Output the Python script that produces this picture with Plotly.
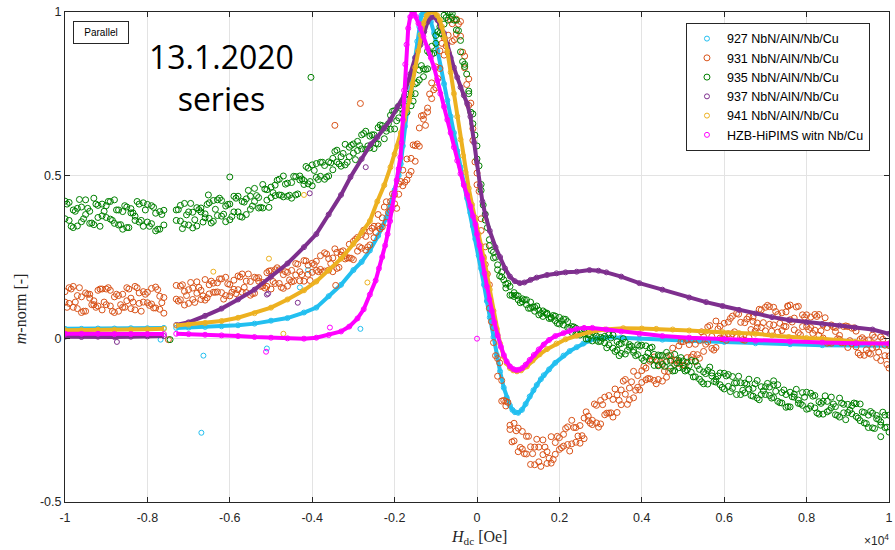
import plotly.graph_objects as go

# ---------------- data (H in units of 10^4 Oe, m normalised) ----------------
H_NOISY = [
    -1.00, -0.99, -0.98, -0.97, -0.96, -0.95, -0.94, -0.93, -0.92, -0.91,
    -0.90, -0.89, -0.88, -0.87, -0.86, -0.85, -0.84, -0.83, -0.82, -0.81,
    -0.80, -0.79, -0.78, -0.77, -0.76,
    -0.73, -0.72, -0.71, -0.70, -0.69, -0.68, -0.67, -0.66, -0.65, -0.64,
    -0.63, -0.62, -0.61, -0.60,
    -0.59, -0.58, -0.57, -0.56, -0.55, -0.54, -0.53, -0.52, -0.51, -0.50,
    -0.49, -0.48, -0.47, -0.46, -0.45, -0.44, -0.43, -0.42, -0.41, -0.40,
    -0.39, -0.38, -0.37, -0.36, -0.35, -0.34, -0.33, -0.32, -0.31, -0.30,
    -0.29, -0.28, -0.27, -0.26, -0.25, -0.24, -0.23, -0.22, -0.21, -0.20,
    -0.19, -0.18, -0.17, -0.16, -0.15, -0.14, -0.13, -0.12, -0.11, -0.10,
    -0.09, -0.08, -0.07, -0.06, -0.05, -0.04, -0.03, -0.02, -0.01, 0.00,
    0.01, 0.02, 0.03, 0.04, 0.05, 0.06, 0.07, 0.08, 0.09, 0.10,
    0.11, 0.12, 0.13, 0.14, 0.15, 0.16, 0.17, 0.18, 0.19, 0.20,
    0.21, 0.22, 0.23, 0.24, 0.25, 0.26, 0.27, 0.28, 0.29, 0.30,
    0.31, 0.32, 0.33, 0.34, 0.35, 0.36, 0.37, 0.38, 0.39, 0.40,
    0.41, 0.42, 0.43, 0.44, 0.45, 0.46, 0.47, 0.48, 0.49, 0.50,
    0.51, 0.52, 0.53, 0.54, 0.55, 0.56, 0.57, 0.58, 0.59, 0.60,
    0.61, 0.62, 0.63, 0.64, 0.65, 0.66, 0.67, 0.68, 0.69, 0.70,
    0.71, 0.72, 0.73, 0.74, 0.75, 0.76, 0.77, 0.78, 0.79, 0.80,
    0.81, 0.82, 0.83, 0.84, 0.85, 0.86, 0.87, 0.88, 0.89, 0.90,
    0.91, 0.92, 0.93, 0.94, 0.95, 0.96, 0.97, 0.98, 0.99, 1.00,
]
H_NOISY_MID = [
    -0.995, -0.985, -0.975, -0.965, -0.955, -0.945, -0.935, -0.925, -0.915, -0.905,
    -0.895, -0.885, -0.875, -0.865, -0.855, -0.845, -0.835, -0.825, -0.815, -0.805,
    -0.795, -0.785, -0.775, -0.765,
    -0.725, -0.715, -0.705, -0.695, -0.685, -0.675, -0.665, -0.655, -0.645, -0.635,
    -0.625, -0.615, -0.605, -0.595,
    -0.585, -0.575, -0.565, -0.555, -0.545, -0.535, -0.525, -0.515, -0.505,
    -0.495, -0.485, -0.475, -0.465, -0.455, -0.445, -0.435, -0.425, -0.415, -0.405,
    -0.395, -0.385, -0.375, -0.365, -0.355, -0.345, -0.335, -0.325, -0.315, -0.305,
    -0.295, -0.285, -0.275, -0.265, -0.255, -0.245, -0.235, -0.225, -0.215, -0.205,
    -0.195, -0.185, -0.175, -0.165, -0.155, -0.145, -0.135, -0.125, -0.115, -0.105,
    -0.095, -0.085, -0.075, -0.065, -0.055, -0.045, -0.035, -0.025, -0.015, -0.005,
    0.005, 0.015, 0.025, 0.035, 0.045, 0.055, 0.065, 0.075, 0.085, 0.095,
    0.105, 0.115, 0.125, 0.135, 0.145, 0.155, 0.165, 0.175, 0.185, 0.195,
    0.205, 0.215, 0.225, 0.235, 0.245, 0.255, 0.265, 0.275, 0.285, 0.295,
    0.305, 0.315, 0.325, 0.335, 0.345, 0.355, 0.365, 0.375, 0.385, 0.395,
    0.405, 0.415, 0.425, 0.435, 0.445, 0.455, 0.465, 0.475, 0.485, 0.495,
    0.505, 0.515, 0.525, 0.535, 0.545, 0.555, 0.565, 0.575, 0.585, 0.595,
    0.605, 0.615, 0.625, 0.635, 0.645, 0.655, 0.665, 0.675, 0.685, 0.695,
    0.705, 0.715, 0.725, 0.735, 0.745, 0.755, 0.765, 0.775, 0.785, 0.795,
    0.805, 0.815, 0.825, 0.835, 0.845, 0.855, 0.865, 0.875, 0.885, 0.895,
    0.905, 0.915, 0.925, 0.935, 0.945, 0.955, 0.965, 0.975, 0.985, 0.995,
]

m_931_a = [
    .112, .156, .096, .132, .08, .14, .124, .104, .148, .088,
    .104, .148, .08, .132, .096, .156, .124, .088, .14, .112,
    .11, .154, .094, .13, .078,
    .163, .119, .145, .108, .155, .139, .12, .181, .137, .17,
    .143, .183, .132, .166,
    .151, .192, .142, .176, .133, .188, .176, .161, .202, .152,
    .211, .169, .196, .161, .209, .195, .177, .239, .197, .231,
    .209, .254, .207, .245, .205, .264, .256, .244, .289, .242,
    .31, .277, .313, .287, .344, .345, .342, .419, .392, .441,
    .442, .516, .486, .552, .543, .645, .672, .694, .783, .768,
    .881, .868, .929, .91, .978, .926, .829, .795, .607, .507,
    .331, .281, .093, .034, -.115, -.128, -.206, -.278, -.259, -.346,
    -.284, -.353, -.331, -.386, -.332, -.355, -.382, -.30, -.354, -.303,
    -.329, -.27, -.322, -.272, -.32, -.243, -.251, -.263, -.204, -.261,
    -.179, -.228, -.186, -.226, -.157, -.17, -.187, -.10, -.149, -.098,
    -.126, -.069, -.128, -.08, -.13, -.055, -.065, -.079, -.022, -.081,
    -.004, -.056, -.017, -.06, .006, -.01, -.03, .054, .002, .047,
    .015, .069, .005, .05, -.005, .067, .053, .034, .088, .024,
    .098, .042, .074, .025, .082, .058, .027, .099, .037, .073,
    .034, .074, .01, .042, -.014, .042, .022, -.002, .037, -.027,
    .032, -.025, -.002, -.051, -.004, -.029, -.058, .005, -.052, -.021,
]
m_931_b = [
    .144, .108, .16, .092, .128, .084, .136, .116, .10, .152,
    .152, .10, .128, .084, .136, .116, .092, .16, .108, .144,
    .142, .106, .158, .09, .126,
    .121, .161, .103, .15, .12, .174, .148, .118, .165, .142,
    .171, .141, .188, .131,
    .179, .15, .198, .141, .175, .139, .187, .172, .16, .208,
    .169, .211, .154, .203, .174, .23, .205, .176, .225, .203,
    .237, .212, .263, .21, .247, .215, .266, .255, .247, .298,
    .268, .319, .271, .329, .309, .38, .37, .356, .42, .413,
    .474, .468, .55, .512, .591, .589, .684, .706, .735, .832,
    .827, .922, .875, .964, .933, .971, .865, .714, .643, .471,
    .367, .227, .165, -.012, -.061, -.191, -.192, -.265, -.313, -.274,
    -.338, -.299, -.385, -.332, -.377, -.31, -.346, -.381, -.318, -.339,
    -.293, -.324, -.25, -.317, -.266, -.306, -.237, -.25, -.258, -.189,
    -.233, -.174, -.24, -.172, -.202, -.125, -.151, -.181, -.113, -.134,
    -.09, -.123, -.056, -.125, -.076, -.118, -.051, -.066, -.076, -.009,
    -.058, -.002, -.071, -.006, -.039, .036, .007, -.027, .038, .011,
    .051, .015, .077, .005, .049, .004, .066, .048, .034, .096,
    .044, .096, .02, .079, .037, .103, .063, .018, .073, .037,
    .066, .026, .074, .002, .034, -.014, .034, .01, -.011, .037,
    -.016, .023, -.05, -.003, -.044, .011, -.026, -.067, -.02, -.053,
]
m_931_mid = [
    .096, .152, .112, .156, .084, .136, .104, .096, .152, .112,
    .156, .084, .136, .104, .096, .152, .112, .156, .084, .136,
    .102, .094, .15, .11,
    .115, .165, .132, .172, .111, .157, .131, .125, .176, .142,
    .183, .121, .168, .142,
    .138, .189, .157, .198, .138, .185, .16, .155, .207,
    .175, .217, .157, .205, .18, .176, .228, .196, .238, .178,
    .227, .205, .204, .259, .23, .275, .218, .269, .247, .246,
    .304, .281, .332, .281, .338, .325, .336, .403, .386, .443,
    .399, .481, .479, .501, .593, .596, .682, .653, .749, .762,
    .796, .904, .896, .976, .915, .963, .877, .778, .721, .541,
    .451, .25, .198, .052, -.052, -.074, -.189, -.195, -.316, -.282,
    -.333, -.352, -.299, -.352, -.308, -.391, -.332, -.366, -.37, -.299,
    -.334, -.275, -.344, -.272, -.298, -.297, -.224, -.259, -.2, -.271,
    -.202, -.228, -.227, -.154, -.189, -.13, -.201, -.132, -.158, -.157,
    -.085, -.122, -.065, -.138, -.071, -.099, -.1, -.029, -.066, -.009,
    -.083, -.018, -.048, -.049, .021, -.017, .04, -.035, .03, .0,
    -.005, .062, .021, .075, -.003, .06, .028, .023, .09, .049,
    .102, .023, .083, .047, .038, .099, .051, .097, .012, .066,
    .028, .016, .068, .024, .064, -.012, .036, .0, -.013, .039,
    -.006, .033, -.044, .003, -.034, -.047, .004, -.041, -.002, -.079,
]

m_935_a = [
    .421, .362, .394, .345, .403, .380, .353, .430, .371, .412,
    .371, .420, .353, .394, .335, .403, .385, .362, .412, .344,
    .411, .352, .384, .335, .393,
    .362, .408, .350, .388, .339, .401, .388, .370, .416, .359,
    .425, .375, .406, .364,
    .436, .388, .420, .380, .436, .420, .400, .472, .424, .464,
    .438, .488, .434, .476, .43, .496, .486, .472, .522, .468,
    .536, .497, .530, .498, .552, .541, .528, .595, .557, .596,
    .576, .624, .579, .620, .582, .646, .642, .635, .684, .642,
    .712, .690, .729, .713, .780, .792, .802, .880, .871, .928,
    .935, .99, .975, .995, .945, .913, .833, .75, .688, .55,
    .472, .363, .303, .247, .226, .189, .155, .16, .129, .131,
    .113, .119, .093, .096, .073, .085, .074, .062, .069, .045,
    .06, .034, .037, .014, .026, .014, -.001, .02, -.005, .004,
    -.013, .012, -.029, -.009, -.045, -.011, -.026, -.042, -.019, -.06,
    -.022, -.063, -.048, -.083, -.051, -.07, -.091, -.048, -.089, -.068,
    -.096, -.067, -.117, -.094, -.138, -.097, -.114, -.133, -.105, -.154,
    -.11, -.152, -.135, -.171, -.136, -.154, -.176, -.128, -.171, -.147,
    -.174, -.141, -.192, -.165, -.21, -.164, -.179, -.198, -.165, -.216,
    -.167, -.212, -.193, -.231, -.192, -.211, -.233, -.182, -.227, -.201,
    -.23, -.199, -.251, -.226, -.272, -.228, -.245, -.265, -.234, -.286,
]
m_935_b = [
    .367, .417, .340, .399, .358, .425, .390, .349, .408, .376,
    .407, .366, .425, .348, .389, .340, .398, .375, .357, .416,
    .357, .407, .330, .389, .348,
    .394, .360, .414, .348, .387, .345, .400, .382, .368, .423,
    .377, .423, .358, .412,
    .388, .436, .372, .428, .396, .460, .432, .400, .456, .432,
    .470, .440, .498, .436, .478, .44, .498, .484, .474, .532,
    .494, .540, .488, .541, .517, .577, .557, .532, .586, .568,
    .604, .581, .635, .584, .624, .596, .652, .645, .641, .698,
    .676, .726, .693, .749, .750, .822, .826, .826, .895, .904,
    .955, .963, .998, .983, .975, .878, .84, .758, .658, .59,
    .454, .381, .285, .265, .211, .204, .167, .133, .141, .119,
    .122, .104, .112, .084, .087, .068, .078, .066, .055, .065,
    .042, .052, .019, .032, .011, .029, .012, -.007, .008, -.008,
    .007, -.019, .011, -.035, -.015, -.047, -.018, -.035, -.049, -.02,
    -.056, -.029, -.082, -.05, -.079, -.042, -.069, -.098, -.067, -.091,
    -.072, -.103, -.069, -.124, -.102, -.139, -.105, -.124, -.141, -.106,
    -.146, -.116, -.171, -.135, -.166, -.124, -.152, -.182, -.147, -.171,
    -.148, -.18, -.141, -.197, -.171, -.209, -.17, -.188, -.204, -.164,
    -.206, -.174, -.231, -.192, -.224, -.179, -.208, -.24, -.201, -.226,
    -.205, -.238, -.2, -.258, -.234, -.273, -.235, -.255, -.272, -.234,
]
m_935_mid = [
    .412, .344, .39, .426, .367, .399, .354, .412, .344, .39,
    .42, .362, .394, .349, .407, .34, .385, .42, .362, .394,
    .344, .402, .335, .38,
    .395, .337, .379, .414, .364, .395, .357, .411, .354, .396,
    .43, .381, .411, .374,
    .43, .374, .418, .454, .406, .438, .402, .458, .402,
    .447, .485, .439, .473, .439, .497, .443, .489, .527, .481,
    .515, .487, .54, .495, .538, .573, .535, .567, .54, .592,
    .548, .591, .628, .59, .624, .598, .654, .612, .658, .696,
    .667, .705, .693, .749, .727, .784, .836, .824, .874, .874,
    .94, .933, .983, 1.0, .975, .943, .848, .81, .693, .623,
    .529, .409, .34, .27, .249, .192, .18, .169, .133, .133,
    .11, .119, .093, .097, .1, .077, .08, .062, .071, .047,
    .054, .059, .032, .036, .014, .027, -.001, .01, .017, -.009,
    .001, -.028, .002, -.039, -.017, .0, -.036, -.023, -.052, -.023,
    -.067, -.044, -.026, -.067, -.052, -.085, -.052, -.099, -.075, -.058,
    -.099, -.083, -.117, -.083, -.132, -.107, -.087, -.131, -.114, -.149,
    -.114, -.162, -.136, -.115, -.158, -.14, -.174, -.138, -.187, -.16,
    -.137, -.182, -.161, -.196, -.157, -.208, -.178, -.155, -.199, -.179,
    -.214, -.176, -.227, -.198, -.175, -.22, -.2, -.235, -.197, -.248,
    -.219, -.197, -.243, -.224, -.26, -.223, -.275, -.247, -.225, -.271,
]

# smooth series as (H, m) readings; None marks the gap in the sweep
m_927 = [
    (-1.0, .03), (-0.96, .03), (-0.92, .031), (-0.88, .031), (-0.84, .032), (-0.8, .032), (-0.76, .033),
    (-0.745, None),
    (-0.73, .033), (-0.7, .034), (-0.66, .036), (-0.62, .038), (-0.58, .041), (-0.54, .046), (-0.5, .055),
    (-0.46, .063), (-0.42, .08), (-0.39, .095), (-0.36, .13), (-0.33, .165), (-0.3, .21), (-0.28, .235),
    (-0.26, .27), (-0.24, .315), (-0.22, .37), (-0.21, .41), (-0.2, .455), (-0.19, .5), (-0.185, .535),
    (-0.18, .59), (-0.175, .65), (-0.17, .695), (-0.165, .73), (-0.16, .765), (-0.155, .81), (-0.15, .86),
    (-0.145, .91), (-0.14, .955), (-0.135, .99), (-0.13, 1.0), (-0.125, 1.0), (-0.12, .995), (-0.112, .97),
    (-0.104, .935), (-0.096, .88), (-0.089, .83), (-0.08, .78), (-0.072, .73), (-0.064, .68), (-0.056, .63),
    (-0.048, .575), (-0.04, .525), (-0.032, .475), (-0.024, .43), (-0.016, .385), (-0.01, .345),
    (-0.004, .305), (0.004, .255), (0.01, .215), (0.017, .165), (0.024, .115), (0.031, .065), (0.04, .005),
    (0.048, -.05), (0.056, -.1), (0.065, -.15), (0.072, -.18), (0.08, -.205), (0.086, -.218), (0.092, -.225),
    (0.1, -.227), (0.109, -.218), (0.118, -.2), (0.128, -.177), (0.137, -.158), (0.145, -.142), (0.155, -.124),
    (0.162, -.112), (0.175, -.094), (0.19, -.074), (0.21, -.052), (0.225, -.038), (0.242, -.026),
    (0.258, -.015), (0.273, -.006), (0.29, .0), (0.314, .004), (0.35, .003), (0.394, .0), (0.45, -.003),
    (0.515, -.006), (0.6, -.01), (0.676, -.014), (0.76, -.017), (0.838, -.02), (0.92, -.021), (1.0, -.022),
]
m_937 = [
    (-1.0, .006), (-0.96, .005), (-0.92, .006), (-0.88, .005), (-0.84, .006), (-0.8, .007), (-0.76, .008),
    (-0.745, None),
    (-0.73, .042), (-0.7, .05), (-0.66, .07), (-0.62, .092), (-0.58, .12), (-0.54, .15), (-0.5, .19),
    (-0.46, .23), (-0.42, .28), (-0.39, .32), (-0.36, .38), (-0.33, .44), (-0.307, .495), (-0.28, .55),
    (-0.258, .595), (-0.242, .617), (-0.225, .645), (-0.21, .67), (-0.193, .71), (-0.177, .745),
    (-0.162, .81), (-0.15, .86), (-0.137, .9), (-0.128, .94), (-0.12, .97), (-0.112, .983), (-0.104, .985),
    (-0.096, .975), (-0.088, .955), (-0.08, .935), (-0.072, .9), (-0.064, .86), (-0.056, .83), (-0.048, .8),
    (-0.04, .77), (-0.032, .745), (-0.024, .72), (-0.016, .68), (-0.007, .6), (0.0, .54), (0.007, .47),
    (0.013, .42), (0.02, .38), (0.031, .33), (0.045, .28), (0.056, .25), (0.068, .215), (0.08, .19),
    (0.092, .176), (0.104, .17), (0.115, .172), (0.13, .18), (0.145, .187), (0.17, .195), (0.193, .2),
    (0.215, .203), (0.242, .205), (0.273, .21), (0.295, .208), (0.314, .203), (0.35, .19), (0.394, .17),
    (0.45, .15), (0.515, .126), (0.556, .112), (0.596, .1), (0.636, .088), (0.676, .077), (0.716, .066),
    (0.757, .057), (0.8, .05), (0.838, .045), (0.88, .04), (0.918, .034), (0.96, .028), (1.0, .015),
]
m_941 = [
    (-1.0, .026), (-0.96, .026), (-0.92, .027), (-0.88, .027), (-0.84, .028), (-0.8, .029), (-0.76, .03),
    (-0.745, None),
    (-0.73, .04), (-0.7, .043), (-0.66, .048), (-0.62, .054), (-0.58, .064), (-0.54, .078), (-0.5, .095),
    (-0.46, .12), (-0.42, .148), (-0.39, .175), (-0.36, .21), (-0.33, .245), (-0.3, .29), (-0.28, .325),
    (-0.26, .36), (-0.242, .42), (-0.225, .47), (-0.21, .525), (-0.2, .565), (-0.193, .59), (-0.185, .63),
    (-0.177, .67), (-0.17, .70), (-0.164, .73), (-0.157, .78), (-0.15, .83), (-0.143, .88), (-0.137, .93),
    (-0.13, .965), (-0.122, .99), (-0.113, 1.0), (-0.105, 1.0), (-0.097, .99), (-0.09, .975), (-0.085, .955),
    (-0.078, .92), (-0.072, .88), (-0.064, .815), (-0.056, .75), (-0.048, .68), (-0.04, .61), (-0.034, .56),
    (-0.028, .51), (-0.02, .46), (-0.012, .41), (-0.004, .37), (0.004, .32), (0.01, .285), (0.017, .245),
    (0.024, .2), (0.031, .15), (0.04, .085), (0.048, .03), (0.056, -.015), (0.065, -.055), (0.072, -.075),
    (0.08, -.09), (0.088, -.097), (0.097, -.1), (0.107, -.097), (0.121, -.085), (0.135, -.067),
    (0.152, -.048), (0.17, -.032), (0.193, -.015), (0.215, -.002), (0.242, .009), (0.273, .02), (0.31, .028),
    (0.355, .032), (0.4, .031), (0.435, .03), (0.475, .028), (0.515, .025), (0.556, .022), (0.596, .02),
    (0.636, .017), (0.676, .015), (0.716, .01), (0.757, .005), (0.8, .002), (0.838, .0), (0.88, -.005),
    (0.918, -.01), (0.96, -.013), (1.0, -.015),
]
m_HZB = [
    (-1.0, .015), (-0.96, .015), (-0.92, .015), (-0.88, .014), (-0.84, .014), (-0.8, .014), (-0.76, .014),
    (-0.745, None),
    (-0.73, .015), (-0.7, .014), (-0.66, .012), (-0.62, .01), (-0.58, .008), (-0.54, .005), (-0.5, .003),
    (-0.46, .001), (-0.42, .0), (-0.39, .003), (-0.36, .011), (-0.33, .022), (-0.31, .037), (-0.29, .062),
    (-0.275, .09), (-0.26, .135), (-0.246, .178), (-0.238, .215), (-0.23, .25), (-0.223, .285), (-0.217, .32),
    (-0.211, .36), (-0.205, .40), (-0.2, .445), (-0.195, .485), (-0.19, .52), (-0.186, .555), (-0.183, .6),
    (-0.18, .67), (-0.177, .76), (-0.174, .84), (-0.171, .9), (-0.167, .95), (-0.162, .985), (-0.157, 1.0),
    (-0.153, .998), (-0.148, .985), (-0.142, .965), (-0.137, .95), (-0.13, .925), (-0.12, .89), (-0.112, .86),
    (-0.104, .83), (-0.096, .79), (-0.089, .75), (-0.08, .71), (-0.072, .67), (-0.064, .63), (-0.056, .586),
    (-0.048, .545), (-0.04, .505), (-0.032, .47), (-0.024, .44), (-0.016, .405), (-0.01, .375), (-0.004, .35),
    (0.0, .32), (0.006, .285), (0.012, .245), (0.018, .2), (0.024, .16), (0.03, .12), (0.036, .085),
    (0.042, .05), (0.05, .01), (0.058, -.025), (0.065, -.05), (0.072, -.07), (0.08, -.085), (0.088, -.093),
    (0.095, -.096), (0.102, -.095), (0.11, -.09), (0.118, -.08), (0.128, -.065), (0.138, -.05), (0.15, -.033),
    (0.162, -.018), (0.175, -.004), (0.19, .008), (0.21, .017), (0.225, .024), (0.242, .03), (0.26, .033),
    (0.28, .033), (0.314, .028), (0.35, .022), (0.394, .015), (0.45, .008), (0.515, .003), (0.6, -.001),
    (0.676, -.006), (0.76, -.009), (0.838, -.012), (0.92, -.014), (1.0, -.015),
]

# isolated stray points
OUT_927 = [(-0.768, -0.003), (-0.664, -0.052), (-0.669, -0.288), (-0.41, 0.21), (-0.43, 0.157), (-0.283, 0.03), (-0.51, -0.03)]
OUT_931 = [(-0.283, 0.72), (-0.345, 0.653), (-0.343, 0.163), (1.0, -0.09), (0.754, 0.1), (-0.749, -0.003)]
OUT_935 = [(-0.403, 0.80), (-0.6, 0.495), (-0.652, 0.44), (0.345, -0.052), (0.72, -0.129), (0.98, -0.3), (-0.745, -0.003)]
OUT_937 = [(-0.27, 0.525), (-0.406, 0.445), (-0.51, 0.135), (-0.874, -0.01), (-0.435, 0.11), (-0.507, 0.138)]
OUT_941 = [(-0.505, 0.245), (-0.64, 0.205), (-0.42, 0.44), (-0.266, 0.172), (-0.47, 0.015)]
OUT_HZB = [(-0.512, -0.04), (0.0, 0.0), (-0.357, 0.034)]

NAMES = ["927 NbN/AlN/Nb/Cu", "931 NbN/AlN/Nb/Cu", "935 NbN/AlN/Nb/Cu",
         "937 NbN/AlN/Nb/Cu", "941 NbN/AlN/Nb/Cu", "HZB-HiPIMS witn Nb/Cu"]
COLORS = ["#22BFF0", "#D95319", "#008000", "#7E2F8E", "#EDB120", "#FF00FF"]

X_TICKS = [-1, -0.8, -0.6, -0.4, -0.2, 0, 0.2, 0.4, 0.6, 0.8, 1]
X_TICK_LABELS = ["-1", "-0.8", "-0.6", "-0.4", "-0.2", "0", "0.2", "0.4", "0.6", "0.8", "1"]
Y_TICKS = [-0.5, 0, 0.5, 1]
Y_TICK_LABELS = ["-0.5", "0", "0.5", "1"]

assert len(H_NOISY) == len(m_931_a) == len(m_931_b) == len(m_935_a) == len(m_935_b), (
    len(H_NOISY), len(m_931_a), len(m_931_b), len(m_935_a), len(m_935_b))
assert len(H_NOISY_MID) == len(m_931_mid) == len(m_935_mid), (
    len(H_NOISY_MID), len(m_931_mid), len(m_935_mid))

# ---------------- figure ----------------
fig = go.Figure()
MSIZE = 5


def add_smooth(pairs, outliers, name, color):
    xs = [p[0] for p in pairs]
    ys = [p[1] for p in pairs]
    fig.add_trace(go.Scatter(x=xs, y=ys, mode="lines", showlegend=False, hoverinfo="skip",
                             connectgaps=False, line=dict(color=color, width=4)))
    mx = [p[0] for p in pairs if p[1] is not None] + [p[0] for p in outliers]
    my = [p[1] for p in pairs if p[1] is not None] + [p[1] for p in outliers]
    fig.add_trace(go.Scatter(x=mx, y=my, mode="markers", name=name,
                             marker=dict(symbol="circle-open", size=MSIZE, color=color,
                                         line=dict(width=1, color=color))))


def add_noisy(a, b, mid, outliers, name, color):
    xs = H_NOISY + H_NOISY + H_NOISY_MID + [p[0] for p in outliers]
    ys = a + b + mid + [p[1] for p in outliers]
    fig.add_trace(go.Scatter(x=xs, y=ys, mode="markers", name=name,
                             marker=dict(symbol="circle-open", size=MSIZE + 1, color=color,
                                         line=dict(width=1, color=color))))


add_smooth(m_927, OUT_927, NAMES[0], COLORS[0])
add_noisy(m_931_a, m_931_b, m_931_mid, OUT_931, NAMES[1], COLORS[1])
add_noisy(m_935_a, m_935_b, m_935_mid, OUT_935, NAMES[2], COLORS[2])
add_smooth(m_937, OUT_937, NAMES[3], COLORS[3])
add_smooth(m_941, OUT_941, NAMES[4], COLORS[4])
add_smooth(m_HZB, OUT_HZB, NAMES[5], COLORS[5])

AX = "#262626"
TICKFONT = dict(family="Liberation Sans, Arial, sans-serif", size=12.5, color=AX)

fig.update_layout(
    width=895, height=550, autosize=False,
    margin=dict(l=65, r=2, t=12, b=48, pad=0),
    paper_bgcolor="white", plot_bgcolor="white",
    showlegend=True,
    legend=dict(x=0.7536, y=0.9776, xanchor="left", yanchor="top",
                bgcolor="white", bordercolor=AX, borderwidth=1,
                font=dict(family="Liberation Sans, Arial, sans-serif", size=12.5, color="#000000"),
                tracegroupgap=0),
    xaxis=dict(range=[-1, 1], tickvals=X_TICKS, ticktext=X_TICK_LABELS, tickfont=TICKFONT,
               showgrid=True, gridcolor="#e3e3e3", gridwidth=1, zeroline=False,
               showline=True, linecolor=AX, linewidth=1, mirror="allticks",
               ticks="inside", ticklen=5, tickcolor=AX, ticklabelstandoff=4,
               ticklabeloverflow="allow"),
    yaxis=dict(range=[-0.5, 1], tickvals=Y_TICKS, ticktext=Y_TICK_LABELS, tickfont=TICKFONT,
               showgrid=True, gridcolor="#e3e3e3", gridwidth=1, zeroline=False,
               showline=True, linecolor=AX, linewidth=1, mirror="allticks",
               ticks="inside", ticklen=5, tickcolor=AX, ticklabeloverflow="allow"),
)


def py2paper(py):
    return 1 - (py - 12) / 490.0


def px2paper(px):
    return (px - 65) / 828.0


annotations = [
    dict(text="Parallel", xref="paper", yref="paper", x=px2paper(73), y=py2paper(21),
         xanchor="left", yanchor="top", showarrow=False, width=52, height=19,
         font=dict(family="Liberation Sans, Arial, sans-serif", size=10, color="#000000"),
         bordercolor=AX, borderwidth=1, borderpad=1, bgcolor="white"),
    dict(text="13.1.2020<br>series", xref="paper", yref="paper", x=px2paper(222), y=py2paper(77),
         xanchor="center", yanchor="middle", showarrow=False,
         font=dict(family="Open Sans, sans-serif", size=32, color="#000000")),
    dict(text="<i>H</i><sub>dc</sub> [Oe]", xref="paper", yref="paper", x=px2paper(481), y=py2paper(537),
         xanchor="center", yanchor="middle", showarrow=False,
         font=dict(family="Liberation Serif, DejaVu Serif, serif", size=16, color="#262626")),
    dict(text="<i>m</i>-norm [-]", xref="paper", yref="paper", x=px2paper(20), y=py2paper(309),
         xanchor="center", yanchor="middle", showarrow=False, textangle=-90,
         font=dict(family="Liberation Serif, DejaVu Serif, serif", size=16, color="#262626")),
    dict(text="\u00d710<sup>4</sup>", xref="paper", yref="paper", x=px2paper(895), y=py2paper(540),
         xanchor="right", yanchor="middle", showarrow=False,
         font=dict(family="Liberation Sans, Arial, sans-serif", size=12, color="#262626")),
]
fig.update_layout(annotations=annotations)

fig.write_html("out.html")
